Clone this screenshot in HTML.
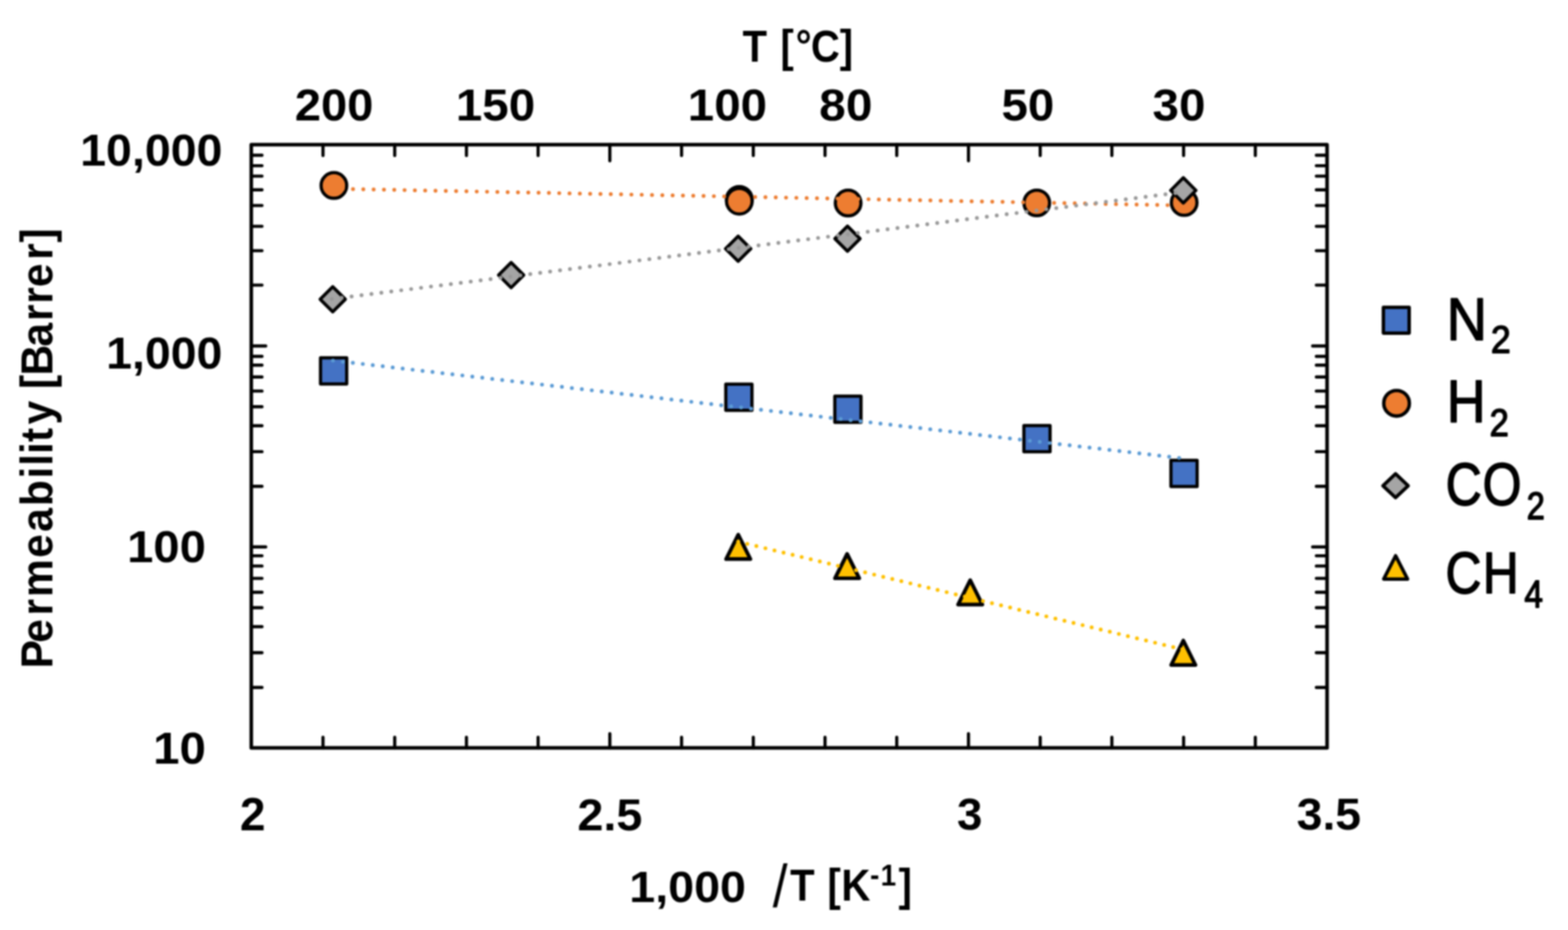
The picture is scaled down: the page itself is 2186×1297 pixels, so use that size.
<!DOCTYPE html>
<html><head><meta charset="utf-8"><title>Permeability vs 1000/T</title>
<style>
html,body{margin:0;padding:0;background:#fff;overflow:hidden;}
svg{display:block;filter:blur(1px);}
</style></head>
<body>
<svg width="2186" height="1297" viewBox="0 0 2186 1297">
<rect width="2186" height="1297" fill="#fff"/>
<rect x="446.85" y="498.95" width="36.50" height="36.50" fill="#4472C4" stroke="#000" stroke-width="4.50" stroke-linejoin="round"/>
<rect x="1011.85" y="535.75" width="36.50" height="36.50" fill="#4472C4" stroke="#000" stroke-width="4.50" stroke-linejoin="round"/>
<rect x="1163.85" y="552.55" width="36.50" height="36.50" fill="#4472C4" stroke="#000" stroke-width="4.50" stroke-linejoin="round"/>
<rect x="1427.45" y="593.55" width="36.50" height="36.50" fill="#4472C4" stroke="#000" stroke-width="4.50" stroke-linejoin="round"/>
<rect x="1632.45" y="642.05" width="36.50" height="36.50" fill="#4472C4" stroke="#000" stroke-width="4.50" stroke-linejoin="round"/>
<circle cx="465.50" cy="258.70" r="17.85" fill="#ED7D31" stroke="#000" stroke-width="4.50"/>
<circle cx="1030.70" cy="278.00" r="17.85" fill="#ED7D31" stroke="#000" stroke-width="4.50"/>
<circle cx="1030.70" cy="280.60" r="17.85" fill="#ED7D31" stroke="#000" stroke-width="4.50"/>
<circle cx="1182.40" cy="283.20" r="17.85" fill="#ED7D31" stroke="#000" stroke-width="4.50"/>
<circle cx="1445.40" cy="283.00" r="17.85" fill="#ED7D31" stroke="#000" stroke-width="4.50"/>
<circle cx="1650.90" cy="282.50" r="17.85" fill="#ED7D31" stroke="#000" stroke-width="4.50"/>
<path d="M463.90 399.85L481.45 417.40L463.90 434.95L446.35 417.40Z" fill="#A5A5A5" stroke="#000" stroke-width="4.50" stroke-linejoin="round"/>
<path d="M712.60 366.15L730.15 383.70L712.60 401.25L695.05 383.70Z" fill="#A5A5A5" stroke="#000" stroke-width="4.50" stroke-linejoin="round"/>
<path d="M1029.10 329.35L1046.65 346.90L1029.10 364.45L1011.55 346.90Z" fill="#A5A5A5" stroke="#000" stroke-width="4.50" stroke-linejoin="round"/>
<path d="M1181.50 315.35L1199.05 332.90L1181.50 350.45L1163.95 332.90Z" fill="#A5A5A5" stroke="#000" stroke-width="4.50" stroke-linejoin="round"/>
<path d="M1649.70 247.95L1667.25 265.50L1649.70 283.05L1632.15 265.50Z" fill="#A5A5A5" stroke="#000" stroke-width="4.50" stroke-linejoin="round"/>
<path d="M1029.20 745.70L1046.10 779.70L1012.30 779.70Z" fill="#FFC000" stroke="#000" stroke-width="5.20" stroke-linejoin="round"/>
<path d="M1181.00 772.50L1197.90 806.50L1164.10 806.50Z" fill="#FFC000" stroke="#000" stroke-width="5.20" stroke-linejoin="round"/>
<path d="M1352.60 809.10L1369.50 843.10L1335.70 843.10Z" fill="#FFC000" stroke="#000" stroke-width="5.20" stroke-linejoin="round"/>
<path d="M1649.70 893.30L1666.60 927.30L1632.80 927.30Z" fill="#FFC000" stroke="#000" stroke-width="5.20" stroke-linejoin="round"/>
<path d="M462.80 502.67L1650.70 639.39" stroke="#5B9BD5" stroke-width="5.40" stroke-linecap="round" stroke-dasharray="0 13.970" stroke-dashoffset="-1.40" fill="none"/>
<path d="M462.80 263.10L1650.90 286.54" stroke="#ED7D31" stroke-width="5.40" stroke-linecap="round" stroke-dasharray="0 14.377" stroke-dashoffset="-0.60" fill="none"/>
<path d="M462.50 417.00L1649.70 267.89" stroke="#999999" stroke-width="5.40" stroke-linecap="round" stroke-dasharray="0 13.946" stroke-dashoffset="0.00" fill="none"/>
<path d="M1029.20 755.41L1649.70 905.88" stroke="#FFC000" stroke-width="5.40" stroke-linecap="round" stroke-dasharray="0 13.000" stroke-dashoffset="0.00" fill="none"/>
<path d="M350.3 216.5L365.3 216.5 M1850.1 216.5L1835.1 216.5 M350.3 231.1L365.3 231.1 M1850.1 231.1L1835.1 231.1 M350.3 245.6L365.3 245.6 M1850.1 245.6L1835.1 245.6 M350.3 264.8L365.3 264.8 M1850.1 264.8L1835.1 264.8 M350.3 286.6L365.3 286.6 M1850.1 286.6L1835.1 286.6 M350.3 315.6L365.3 315.6 M1850.1 315.6L1835.1 315.6 M350.3 349.6L365.3 349.6 M1850.1 349.6L1835.1 349.6 M350.3 397.6L365.3 397.6 M1850.1 397.6L1835.1 397.6 M350.3 497.0L365.3 497.0 M1850.1 497.0L1835.1 497.0 M350.3 509.3L365.3 509.3 M1850.1 509.3L1835.1 509.3 M350.3 525.8L365.3 525.8 M1850.1 525.8L1835.1 525.8 M350.3 545.4L365.3 545.4 M1850.1 545.4L1835.1 545.4 M350.3 567.2L365.3 567.2 M1850.1 567.2L1835.1 567.2 M350.3 593.7L365.3 593.7 M1850.1 593.7L1835.1 593.7 M350.3 629.9L365.3 629.9 M1850.1 629.9L1835.1 629.9 M350.3 678.2L365.3 678.2 M1850.1 678.2L1835.1 678.2 M350.3 775.1L365.3 775.1 M1850.1 775.1L1835.1 775.1 M350.3 789.4L365.3 789.4 M1850.1 789.4L1835.1 789.4 M350.3 806.6L365.3 806.6 M1850.1 806.6L1835.1 806.6 M350.3 826.0L365.3 826.0 M1850.1 826.0L1835.1 826.0 M350.3 847.5L365.3 847.5 M1850.1 847.5L1835.1 847.5 M350.3 874.0L365.3 874.0 M1850.1 874.0L1835.1 874.0 M350.3 910.2L365.3 910.2 M1850.1 910.2L1835.1 910.2 M350.3 958.8L365.3 958.8 M1850.1 958.8L1835.1 958.8 M350.3 482.5L370.5 482.5 M1850.1 482.5L1829.9 482.5 M350.3 762.8L370.5 762.8 M1850.1 762.8L1829.9 762.8 M450.3 1043.1L450.3 1028.1 M450.3 201.7L450.3 216.9 M550.3 1043.1L550.3 1028.1 M550.3 201.7L550.3 216.9 M650.3 1043.1L650.3 1028.1 M650.3 201.7L650.3 216.9 M750.2 1043.1L750.2 1028.1 M750.2 201.7L750.2 216.9 M850.2 1043.1L850.2 1023.1 M850.2 201.7L850.2 224.2 M950.2 1043.1L950.2 1028.1 M950.2 201.7L950.2 216.9 M1050.2 1043.1L1050.2 1028.1 M1050.2 201.7L1050.2 216.9 M1150.2 1043.1L1150.2 1028.1 M1150.2 201.7L1150.2 216.9 M1250.2 1043.1L1250.2 1028.1 M1250.2 201.7L1250.2 216.9 M1350.2 1043.1L1350.2 1023.1 M1350.2 201.7L1350.2 224.2 M1450.2 1043.1L1450.2 1028.1 M1450.2 201.7L1450.2 216.9 M1550.1 1043.1L1550.1 1028.1 M1550.1 201.7L1550.1 216.9 M1650.1 1043.1L1650.1 1028.1 M1650.1 201.7L1650.1 216.9 M1750.1 1043.1L1750.1 1028.1 M1750.1 201.7L1750.1 216.9" stroke="#000" stroke-width="4.40" stroke-linecap="round" fill="none"/>
<rect x="350.30" y="201.70" width="1499.80" height="841.40" fill="none" stroke="#000" stroke-width="5.00" stroke-linejoin="round"/>
<text x="410.92" y="168.39" font-size="62.57" font-weight="bold" textLength="109.57" lengthAdjust="spacingAndGlyphs" font-family="Liberation Sans, sans-serif" style="font-kerning:none">200</text>
<text x="635.42" y="168.39" font-size="62.57" font-weight="bold" textLength="110.70" lengthAdjust="spacingAndGlyphs" font-family="Liberation Sans, sans-serif" style="font-kerning:none">150</text>
<text x="958.83" y="168.39" font-size="62.57" font-weight="bold" textLength="110.49" lengthAdjust="spacingAndGlyphs" font-family="Liberation Sans, sans-serif" style="font-kerning:none">100</text>
<text x="1142.08" y="168.39" font-size="62.57" font-weight="bold" textLength="74.15" lengthAdjust="spacingAndGlyphs" font-family="Liberation Sans, sans-serif" style="font-kerning:none">80</text>
<text x="1396.27" y="168.39" font-size="62.57" font-weight="bold" textLength="73.55" lengthAdjust="spacingAndGlyphs" font-family="Liberation Sans, sans-serif" style="font-kerning:none">50</text>
<text x="1606.88" y="168.30" font-size="62.44" font-weight="bold" textLength="73.74" lengthAdjust="spacingAndGlyphs" font-family="Liberation Sans, sans-serif" style="font-kerning:none">30</text>
<text x="111.82" y="231.09" font-size="62.71" font-weight="bold" textLength="198.34" lengthAdjust="spacingAndGlyphs" font-family="Liberation Sans, sans-serif" style="font-kerning:none">10,000</text>
<text x="148.12" y="514.49" font-size="62.71" font-weight="bold" textLength="162.03" lengthAdjust="spacingAndGlyphs" font-family="Liberation Sans, sans-serif" style="font-kerning:none">1,000</text>
<text x="177.25" y="784.19" font-size="62.29" font-weight="bold" textLength="109.85" lengthAdjust="spacingAndGlyphs" font-family="Liberation Sans, sans-serif" style="font-kerning:none">100</text>
<text x="213.53" y="1064.79" font-size="62.71" font-weight="bold" textLength="73.58" lengthAdjust="spacingAndGlyphs" font-family="Liberation Sans, sans-serif" style="font-kerning:none">10</text>
<text x="334.48" y="1157.60" font-size="64.02" font-weight="bold" textLength="35.58" lengthAdjust="spacingAndGlyphs" font-family="Liberation Sans, sans-serif" style="font-kerning:none">2</text>
<text x="804.94" y="1157.90" font-size="63.87" font-weight="bold" textLength="90.57" lengthAdjust="spacingAndGlyphs" font-family="Liberation Sans, sans-serif" style="font-kerning:none">2.5</text>
<text x="1334.24" y="1157.19" font-size="62.86" font-weight="bold" textLength="35.36" lengthAdjust="spacingAndGlyphs" font-family="Liberation Sans, sans-serif" style="font-kerning:none">3</text>
<text x="1807.72" y="1157.19" font-size="62.86" font-weight="bold" textLength="89.78" lengthAdjust="spacingAndGlyphs" font-family="Liberation Sans, sans-serif" style="font-kerning:none">3.5</text>
<text x="877.30" y="1258.40" font-size="61.30" font-weight="bold" textLength="162.76" lengthAdjust="spacingAndGlyphs" font-family="Liberation Sans, sans-serif" style="font-kerning:none">1,000</text>
<text transform="translate(1035.10 0) scale(0.8953 1)" font-family="Liberation Sans, sans-serif" style="font-kerning:none"><tspan x="0.15 38.24 59.23 82.77 106.68 151.49" y="86.40" font-size="62.36" font-weight="bold">T [°C]</tspan></text>
<text transform="translate(1074.60 0) scale(0.8997 1)" font-family="Liberation Sans, sans-serif" style="font-kerning:none"><tspan x="3.04" y="1265.19" font-size="82.93" font-weight="normal">/</tspan><tspan x="29.95 67.95 87.81 109.46" y="1256.40" font-size="62.21" font-weight="bold">T [K</tspan><tspan x="153.89 170.14" y="1234.80" font-size="43.17" font-weight="bold">-1</tspan><tspan x="197.92" y="1256.40" font-size="62.21" font-weight="bold">]</tspan></text>
<text transform="translate(2022.50 0) scale(0.9284 1)" font-family="Liberation Sans, sans-serif" style="font-kerning:none" stroke="#000" stroke-width="1.868" stroke-linejoin="round"><tspan x="-6.17" y="474.40" font-size="84.16" font-weight="normal">N</tspan><tspan x="60.45" y="492.00" font-size="53.56" font-weight="normal">2</tspan></text>
<text transform="translate(2022.50 0) scale(0.8975 1)" font-family="Liberation Sans, sans-serif" style="font-kerning:none" stroke="#000" stroke-width="1.900" stroke-linejoin="round"><tspan x="-6.13" y="589.40" font-size="83.58" font-weight="normal">H</tspan><tspan x="60.54" y="608.10" font-size="53.56" font-weight="normal">2</tspan></text>
<text transform="translate(2020.20 0) scale(0.8412 1)" font-family="Liberation Sans, sans-serif" style="font-kerning:none" stroke="#000" stroke-width="1.963" stroke-linejoin="round"><tspan x="-5.68 55.56" y="704.49" font-size="82.77" font-weight="normal">CO</tspan><tspan x="128.67" y="724.50" font-size="53.71" font-weight="normal">2</tspan></text>
<text transform="translate(2019.70 0) scale(0.8535 1)" font-family="Liberation Sans, sans-serif" style="font-kerning:none" stroke="#000" stroke-width="1.948" stroke-linejoin="round"><tspan x="-5.24 55.66" y="827.31" font-size="81.21" font-weight="normal">CH</tspan><tspan x="123.72" y="846.90" font-size="54.36" font-weight="normal">4</tspan></text>
<text transform="translate(72.70 927.60) rotate(-90) scale(0.9364 1)" font-family="Liberation Sans, sans-serif" style="font-kerning:none"><tspan x="-4.92 33.23 73.81 101.39 159.88 198.47 236.64 277.68 296.79 314.30 332.33 358.27 393.60 411.14 431.21 474.26 512.46 538.09 562.91 603.39 629.27" y="0.00" font-size="63.52" font-weight="bold">Permeability [Barrer]</tspan></text>
<rect x="1928.65" y="428.65" width="35.90" height="35.90" fill="#4472C4" stroke="#000" stroke-width="4.80" stroke-linejoin="round"/>
<circle cx="1947.00" cy="562.40" r="17.85" fill="#ED7D31" stroke="#000" stroke-width="4.80"/>
<path d="M1945.60 660.80L1963.20 677.40L1945.60 694.00L1928.00 677.40Z" fill="#A5A5A5" stroke="#000" stroke-width="4.80" stroke-linejoin="round"/>
<path d="M1945.70 775.05L1962.35 807.55L1929.05 807.55Z" fill="#FFC000" stroke="#000" stroke-width="4.80" stroke-linejoin="round"/>
</svg>
</body></html>
